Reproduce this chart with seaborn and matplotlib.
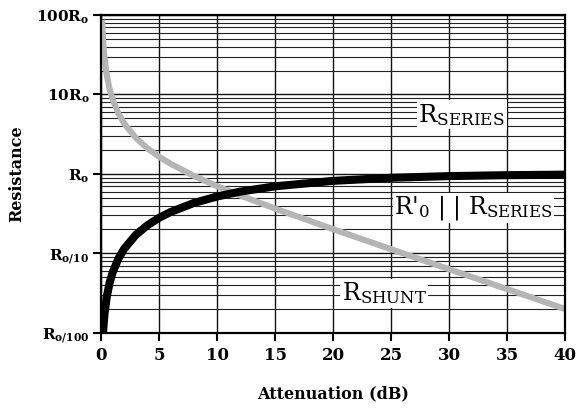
import numpy as np
import pandas as pd
import matplotlib
matplotlib.use("Agg")
import matplotlib.pyplot as plt
import seaborn as sns

# ─── Data (resistance in units of Ro) ────────────────────────────────────────
atten_db = [0.1, 0.15, 0.2, 0.3, 0.5, 0.75, 1, 1.5, 2, 3, 4, 5, 6, 8,
            10, 12, 15, 20, 25, 30, 35, 40]
r_shunt = [87.0, 58.0, 43.4, 29.0, 17.3, 11.5, 8.66, 5.76, 4.30, 2.84, 2.10,
           1.645, 1.34, 0.946, 0.703, 0.536, 0.367, 0.202, 0.113, 0.0633,
           0.0356, 0.0200]
r_series = [0.0058, 0.0086, 0.0115, 0.0173, 0.0288, 0.0432, 0.0575, 0.0861,
            0.1146, 0.171, 0.226, 0.280, 0.332, 0.431, 0.520, 0.599, 0.698,
            0.818, 0.894, 0.939, 0.965, 0.980]

ytick_vals = [0.01, 0.1, 1, 10, 100]
ytick_labels = [r"R$_{\mathbf{o/100}}$", r"R$_{\mathbf{o/10}}$", r"R$_{\mathbf{o}}$",
                r"10R$_{\mathbf{o}}$", r"100R$_{\mathbf{o}}$"]
xtick_vals = [0, 5, 10, 15, 20, 25, 30, 35, 40]
# ──────────────────────────────────────────────────────────────────────────────

sns.set_style("ticks")
plt.rcParams["font.family"] = ["DejaVu Serif"]
plt.rcParams["mathtext.fontset"] = "dejavuserif"
plt.rcParams["text.color"] = "black"
plt.rcParams["axes.labelcolor"] = "black"

df = pd.DataFrame({"dB": atten_db, "shunt": r_shunt, "series": r_series})

fig = plt.figure(figsize=(5.84, 4.13), dpi=100)
ax = fig.add_axes([0.173, 0.194, 0.7945, 0.7697])

sns.lineplot(data=df, x="dB", y="shunt", ax=ax, color="#b5b5b5", lw=4.4,
             solid_capstyle="butt", zorder=2)
sns.lineplot(data=df, x="dB", y="series", ax=ax, color="black", lw=5.8,
             solid_capstyle="butt", zorder=2.5)

ax.set_yscale("log")
ax.set_xlim(0, 40)
ax.set_ylim(0.01, 100)
ax.set_xticks(xtick_vals)
ax.set_yticks(ytick_vals)
ax.set_yticklabels(ytick_labels)
ax.yaxis.set_minor_locator(matplotlib.ticker.LogLocator(base=10, subs=np.arange(2, 10)))
ax.yaxis.set_minor_formatter(matplotlib.ticker.NullFormatter())

# grid stays under the curves (default axisbelow='line')
ax.grid(which="major", axis="both", color="#111111", lw=1.0)
ax.grid(which="minor", axis="y", color="#222222", lw=0.8)

ax.tick_params(axis="both", which="major", direction="out", length=5.5, width=1.5,
               color="black", labelcolor="black", left=True, bottom=True)
ax.tick_params(axis="x", which="major", labelsize=12, pad=5)
ax.tick_params(axis="y", which="major", labelsize=11, pad=3)
ax.tick_params(axis="y", which="minor", length=0)
for lab in ax.get_xticklabels() + ax.get_yticklabels():
    lab.set_fontweight("bold")

for sp in ax.spines.values():
    sp.set_visible(True)
    sp.set_color("black")
    sp.set_linewidth(1.6)

ax.set_xlabel("Attenuation (dB)", fontsize=11.5, fontweight="bold", labelpad=15)
ax.set_ylabel("Resistance", fontsize=11.5, fontweight="bold", labelpad=8)

box = dict(facecolor="white", edgecolor="none", pad=1)
ax.text(31.1, 5.55, r"R$_{\mathrm{SERIES}}$", fontsize=17.5, ha="center", va="center",
        bbox=box, zorder=3)
ax.text(32.1, 0.372, r"R$'_0$ | | R$_{\mathrm{SERIES}}$", fontsize=17,
        ha="center", va="center", bbox=box, zorder=3)
ax.text(24.4, 0.0316, r"R$_{\mathrm{SHUNT}}$", fontsize=17, ha="center", va="center",
        bbox=box, zorder=3)

plt.savefig("out.png", dpi=100)
plt.close()
